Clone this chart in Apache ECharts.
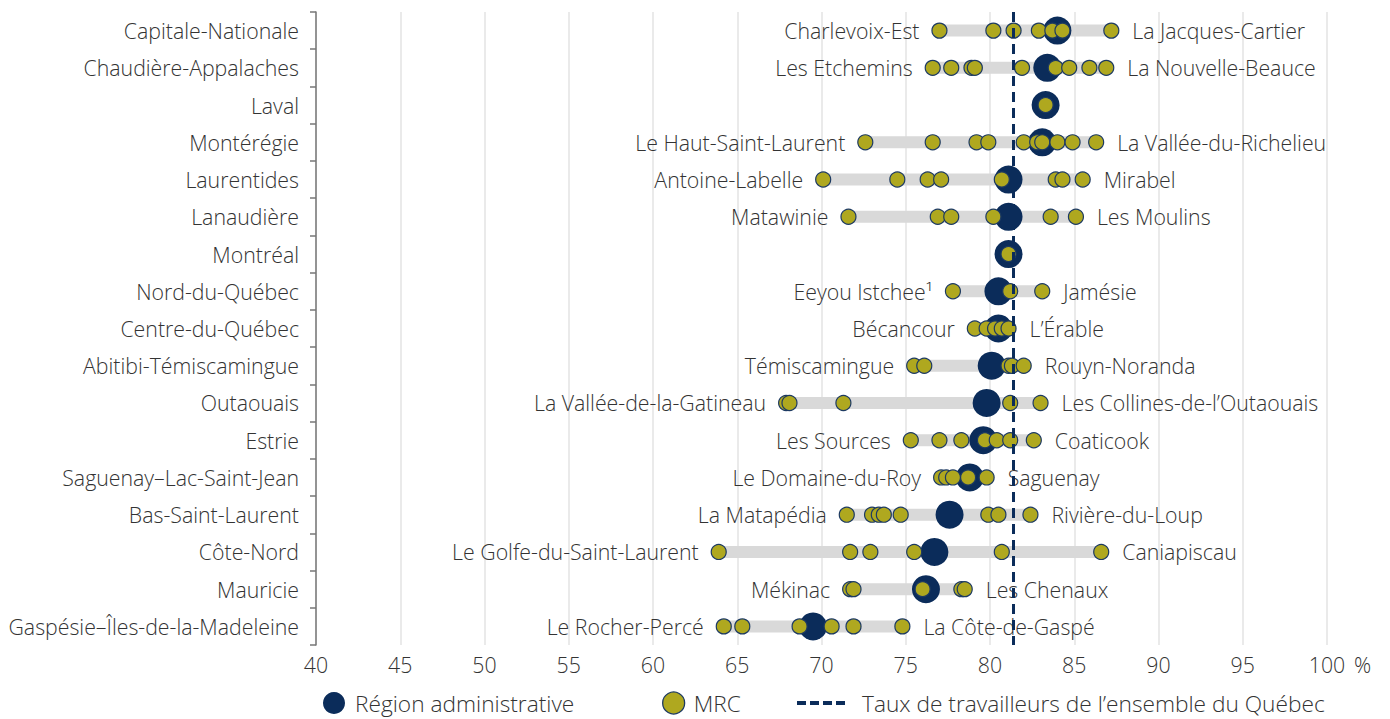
<!DOCTYPE html>
<html>
<head>
<meta charset="utf-8">
<script src="https://cdn.jsdelivr.net/npm/echarts@6/dist/echarts.min.js"></script>
<style>
html,body{margin:0;padding:0;background:#fff;}
#chart{width:1390px;height:719px;}
</style>
</head>
<body>
<div id="chart"></div>
<script>
// ---- data ----
const regions = ['Capitale-Nationale','Chaudière-Appalaches','Laval','Montérégie','Laurentides','Lanaudière','Montréal','Nord-du-Québec','Centre-du-Québec','Abitibi-Témiscamingue','Outaouais','Estrie','Saguenay–Lac-Saint-Jean','Bas-Saint-Laurent','Côte-Nord','Mauricie','Gaspésie–Îles-de-la-Madeleine'];
const regionRate = [84.0, 83.4, 83.3, 83.1, 81.1, 81.1, 81.1, 80.5, 80.5, 80.1, 79.8, 79.6, 78.8, 77.6, 76.7, 76.2, 69.5];
const mrcCapitaleNationale = [77.0, 80.2, 81.4, 82.9, 83.7, 84.3, 87.2];
const mrcChaudiereAppalaches = [76.6, 77.7, 78.9, 79.1, 81.9, 83.9, 84.7, 85.9, 86.9];
const mrcLaval = [83.3];
const mrcMonteregie = [72.6, 76.6, 79.2, 79.9, 82.0, 82.8, 83.1, 84.0, 84.9, 86.3];
const mrcLaurentides = [70.1, 74.5, 76.3, 77.1, 80.7, 83.9, 84.3, 85.5];
const mrcLanaudiere = [71.6, 76.9, 77.7, 80.2, 83.6, 85.1];
const mrcMontreal = [81.1];
const mrcNordDuQuebec = [77.8, 81.2, 83.1];
const mrcCentreDuQuebec = [79.1, 79.8, 80.3, 80.7, 81.1];
const mrcAbitibi = [75.5, 76.1, 81.1, 81.3, 82.0];
const mrcOutaouais = [67.9, 68.1, 71.3, 81.2, 83.0];
const mrcEstrie = [75.3, 77.0, 78.3, 79.7, 80.4, 81.2, 82.6];
const mrcSaguenay = [77.1, 77.4, 77.8, 78.7, 79.8];
const mrcBasSaintLaurent = [71.5, 73.0, 73.4, 73.7, 74.7, 79.9, 80.5, 82.4];
const mrcCoteNord = [63.9, 71.7, 72.9, 75.5, 80.7, 86.6];
const mrcMauricie = [71.7, 71.9, 76.0, 78.3, 78.5];
const mrcGaspesie = [64.2, 65.3, 68.7, 70.6, 71.9, 74.8];
const mrcRates = [mrcCapitaleNationale, mrcChaudiereAppalaches, mrcLaval, mrcMonteregie, mrcLaurentides, mrcLanaudiere, mrcMontreal, mrcNordDuQuebec, mrcCentreDuQuebec, mrcAbitibi, mrcOutaouais, mrcEstrie, mrcSaguenay, mrcBasSaintLaurent, mrcCoteNord, mrcMauricie, mrcGaspesie];
const minMrcName = ['Charlevoix-Est','Les Etchemins','','Le Haut-Saint-Laurent','Antoine-Labelle','Matawinie','','Eeyou Istchee¹','Bécancour','Témiscamingue','La Vallée-de-la-Gatineau','Les Sources','Le Domaine-du-Roy','La Matapédia','Le Golfe-du-Saint-Laurent','Mékinac','Le Rocher-Percé'];
const maxMrcName = ['La Jacques-Cartier','La Nouvelle-Beauce','','La Vallée-du-Richelieu','Mirabel','Les Moulins','','Jamésie','L’Érable','Rouyn-Noranda','Les Collines-de-l’Outaouais','Coaticook','Saguenay','Rivière-du-Loup','Caniapiscau','Les Chenaux','La Côte-de-Gaspé'];
const quebecRate = 81.4;
const xMin = 40, xMax = 100, xStep = 5;
const legendNames = ['Région administrative', 'MRC', 'Taux de travailleurs de l’ensemble du Québec'];

// ---- styles ----
const NAVY = '#0b2c5a';
const OLIVE = '#afa81f';
const BARGRAY = '#d9d9d9';
const TXT = '#333333';
const FONT = '"Open Sans", "Noto Sans", sans-serif';
const FS = 21.3;
const LFS = 22.7;

const rangeData = mrcRates.map((arr, i) => [i, Math.min(...arr), Math.max(...arr)]);
const regionData = regionRate.map((v, i) => [v, i]);
const mrcData = [];
mrcRates.forEach((arr, i) => arr.forEach(v => mrcData.push([v, i])));

const legendText = (pad) => ({color: TXT, fontSize: LFS, lineHeight: 24, fontWeight: 300, fontFamily: FONT, padding: [0, 0, 0, pad]});

const chart = echarts.init(document.getElementById('chart'), null, {renderer: 'svg'});
chart.setOption({
  animation: false,
  backgroundColor: '#fff',
  textStyle: {fontFamily: FONT},
  grid: {left: 316, right: 63, top: 12, bottom: 74, containLabel: false},
  xAxis: {
    type: 'value', min: xMin, max: xMax, interval: xStep,
    name: '%', nameLocation: 'end', nameGap: 27,
    nameTextStyle: {color: TXT, fontSize: FS, fontWeight: 300, fontFamily: FONT, verticalAlign: 'top', padding: [9, 0, 0, 0]},
    axisLine: {show: false}, axisTick: {show: false},
    axisLabel: {color: TXT, fontSize: FS, fontWeight: 300, fontFamily: FONT, margin: 9},
    splitLine: {show: true, lineStyle: {color: '#e3e3e3', width: 1.5}}
  },
  yAxis: {
    type: 'category', data: regions, inverse: true,
    axisLine: {show: true, lineStyle: {color: '#777', width: 1.5}},
    axisTick: {show: true, length: 6, lineStyle: {color: '#777', width: 1.5}},
    axisLabel: {color: TXT, fontSize: FS, fontWeight: 300, fontFamily: FONT, margin: 17},
    splitLine: {show: false}
  },
  legend: [
    {data: [{name: legendNames[0], icon: 'circle', itemStyle: {color: NAVY, borderWidth: 0}}], left: 323, top: 691, padding: 0, itemWidth: 22, itemHeight: 22, itemGap: 0,
      textStyle: legendText(5)},
    {data: [{name: legendNames[1], icon: 'circle', itemStyle: {color: OLIVE, borderColor: '#1d3a62', borderWidth: 1.3}}], left: 662, top: 691, padding: 0, itemWidth: 22, itemHeight: 22, itemGap: 0,
      textStyle: legendText(4)},
    {data: [{name: legendNames[2], icon: 'path://M0,0h9v4h-9z M13,0h9v4h-9z M26,0h9v4h-9z M39,0h9v4h-9z', itemStyle: {color: NAVY, borderWidth: 0}}],
      left: 797, top: 691, padding: 0, itemWidth: 48, itemHeight: 4, itemGap: 0,
      textStyle: legendText(12)}
  ],
  series: [
    {
      type: 'custom', name: 'range', z: 1, silent: true,
      encode: {x: [1, 2], y: 0},
      data: rangeData,
      renderItem: function (params, api) {
        const idx = api.value(0), lo = api.value(1), hi = api.value(2);
        if (lo === hi) return null;
        const p1 = api.coord([lo, idx]);
        const p2 = api.coord([hi, idx]);
        const h = 12;
        const font = {fontSize: FS, fontWeight: 300, fontFamily: FONT};
        return {
          type: 'group',
          children: [
            {type: 'rect', shape: {x: p1[0], y: p1[1] - h / 2, width: p2[0] - p1[0], height: h}, style: {fill: BARGRAY}},
            {type: 'text', style: Object.assign({text: minMrcName[params.dataIndex], x: p1[0] - 20, y: p1[1], align: 'right', verticalAlign: 'middle', fill: TXT}, font)},
            {type: 'text', style: Object.assign({text: maxMrcName[params.dataIndex], x: p2[0] + 21, y: p1[1], align: 'left', verticalAlign: 'middle', fill: TXT}, font)}
          ]
        };
      }
    },
    {
      type: 'line', name: legendNames[2], z: 2, data: [],
      itemStyle: {color: NAVY}, lineStyle: {color: NAVY, type: 'dashed', width: 3},
      markLine: {
        silent: true, symbol: 'none', label: {show: false},
        lineStyle: {color: NAVY, type: [10, 6], width: 3},
        data: [{xAxis: quebecRate}]
      }
    },
    {
      type: 'scatter', name: legendNames[0], z: 3, symbol: 'circle', symbolSize: 28,
      itemStyle: {color: NAVY, opacity: 1},
      data: regionData
    },
    {
      type: 'scatter', name: legendNames[1], z: 4, symbol: 'circle', symbolSize: 15,
      itemStyle: {color: OLIVE, borderColor: '#1d3a62', borderWidth: 1.2, opacity: 1},
      data: mrcData
    }
  ]
});
</script>
</body>
</html>
